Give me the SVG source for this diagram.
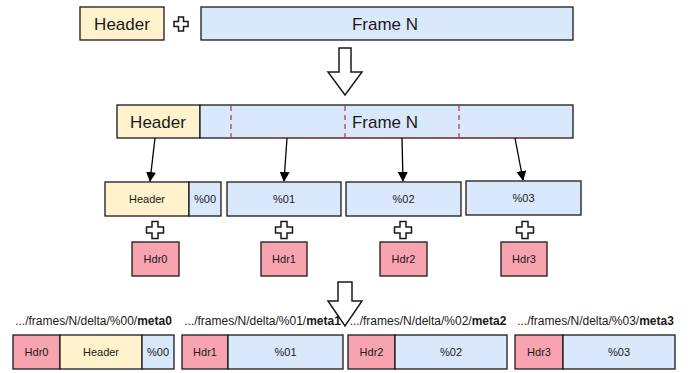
<svg xmlns="http://www.w3.org/2000/svg" width="693" height="373" viewBox="0 0 693 373">
<style>
text{font-family:"Liberation Sans",Arial,sans-serif;fill:#1a1a1a;text-anchor:middle}
.y{fill:#fff2cc;stroke:#1a1a1a;stroke-width:1.3}
.b{fill:#dae8fc;stroke:#1a1a1a;stroke-width:1.3}
.p{fill:#f8a3b0;stroke:#1a1a1a;stroke-width:1.3}
.big{font-size:17px}
.sm{font-size:11px}
.lb{font-size:12px}
.d{fill:none;stroke:#b5474a;stroke-width:1.3;stroke-dasharray:5 4}
.sh{fill:#fff;stroke:#1a1a1a;stroke-width:1.5;stroke-linejoin:miter}
.c{fill:none;stroke:#000;stroke-width:1.3}
</style>
<defs>
<marker id="ah" viewBox="0 0 10 10" refX="9" refY="5" markerWidth="10" markerHeight="10" markerUnits="userSpaceOnUse" orient="auto">
<path d="M0,0 L10,5 L0,10 Z" fill="#000"/>
</marker>
<path id="plusS" d="M-2.5,-7 h5 v4.5 h4.5 v5 h-4.5 v4.5 h-5 v-4.5 h-4.5 v-5 h4.5 Z"/>
<path id="plusL" d="M-3,-8.5 h6 v5.5 h5.5 v6 h-5.5 v5.5 h-6 v-5.5 h-5.5 v-6 h5.5 Z"/>
</defs>

<g id="top-header"><rect class="y" x="80" y="7" width="84" height="33"/><text class="big" x="122" y="29.5">Header</text></g>
<g id="top-plus"><use href="#plusS" class="sh" x="181" y="24"/></g>
<g id="top-frame"><rect class="b" x="201" y="7" width="372" height="33"/><text class="big" x="385" y="29.5">Frame N</text></g>

<g id="big-arrow-1"><path class="sh" d="M339,48 H351 V72 H362 L345,95 L328,72 H339 Z"/></g>

<g id="split-header"><rect class="y" x="117" y="105" width="83" height="33"/><text class="big" x="158" y="127.5">Header</text></g>
<g id="split-frame">
<rect class="b" x="200" y="105" width="373" height="33"/>
<path class="d" d="M231,106 V138 M345,106 V138 M459,106 V138 M231,138 H573"/>
<text class="big" x="385" y="127.5">Frame N</text>
</g>

<g id="connectors">
<line class="c" x1="155" y1="138" x2="150" y2="181" marker-end="url(#ah)"/>
<line class="c" x1="287" y1="138" x2="284" y2="181" marker-end="url(#ah)"/>
<line class="c" x1="402" y1="138" x2="403" y2="181" marker-end="url(#ah)"/>
<line class="c" x1="515" y1="138" x2="523" y2="180" marker-end="url(#ah)"/>
</g>

<g id="part0"><rect class="y" x="105" y="182" width="84" height="34"/><text class="sm" x="147" y="203">Header</text><rect class="b" x="189" y="182" width="32" height="34"/><text class="sm" x="205" y="203">%00</text></g>
<g id="part1"><rect class="b" x="227" y="182" width="114" height="34"/><text class="sm" x="284" y="203">%01</text></g>
<g id="part2"><rect class="b" x="346" y="182" width="115" height="34"/><text class="sm" x="403.500" y="203">%02</text></g>
<g id="part3"><rect class="b" x="466" y="181" width="115" height="34"/><text class="sm" x="523.500" y="202">%03</text></g>

<g id="plus-row"><use href="#plusL" class="sh" x="155" y="230"/><use href="#plusL" class="sh" x="284" y="230"/><use href="#plusL" class="sh" x="403" y="230"/><use href="#plusL" class="sh" x="525" y="230"/></g>

<g id="hdr0"><rect class="p" x="132" y="242" width="47" height="34"/><text class="sm" x="155.500" y="263">Hdr0</text></g>
<g id="hdr1"><rect class="p" x="261" y="242" width="46" height="34"/><text class="sm" x="284" y="263">Hdr1</text></g>
<g id="hdr2"><rect class="p" x="380" y="242" width="47" height="34"/><text class="sm" x="403.500" y="263">Hdr2</text></g>
<g id="hdr3"><rect class="p" x="501" y="242" width="46" height="34"/><text class="sm" x="524" y="263">Hdr3</text></g>

<g id="big-arrow-2"><path class="sh" d="M338,282 H352 V301 H362 L345,326 L328,301 H338 Z"/></g>

<g id="meta0"><text class="lb" x="93.500" y="325">.../frames/N/delta/%00/<tspan font-weight="bold">meta0</tspan></text>
<rect class="p" x="13" y="335" width="47" height="34"/><text class="sm" x="36.500" y="356">Hdr0</text>
<rect class="y" x="60" y="335" width="82" height="34"/><text class="sm" x="101" y="356">Header</text>
<rect class="b" x="142" y="335" width="32" height="34"/><text class="sm" x="158" y="356">%00</text></g>
<g id="meta1"><text class="lb" x="262.500" y="325">.../frames/N/delta/%01/<tspan font-weight="bold">meta1</tspan></text>
<rect class="p" x="182" y="335" width="46" height="34"/><text class="sm" x="205" y="356">Hdr1</text>
<rect class="b" x="228" y="335" width="115" height="34"/><text class="sm" x="285.500" y="356">%01</text></g>
<g id="meta2"><text class="lb" x="428" y="325">.../frames/N/delta/%02/<tspan font-weight="bold">meta2</tspan></text>
<rect class="p" x="348" y="335" width="47" height="34"/><text class="sm" x="371.500" y="356">Hdr2</text>
<rect class="b" x="395" y="335" width="112" height="34"/><text class="sm" x="451" y="356">%02</text></g>
<g id="meta3"><text class="lb" x="595.500" y="325">.../frames/N/delta/%03/<tspan font-weight="bold">meta3</tspan></text>
<rect class="p" x="515" y="335" width="48" height="34"/><text class="sm" x="539" y="356">Hdr3</text>
<rect class="b" x="563" y="335" width="112" height="34"/><text class="sm" x="619" y="356">%03</text></g>
</svg>
